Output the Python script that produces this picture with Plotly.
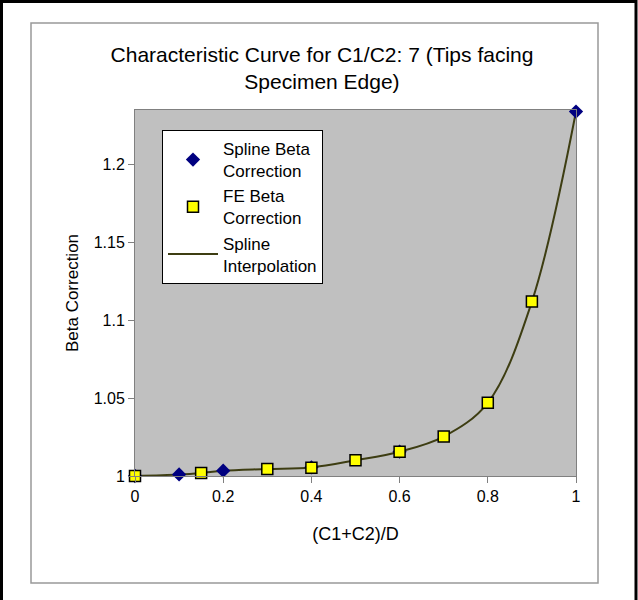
import plotly.graph_objects as go

# values
spline_x = [0, 0.1, 0.2, 0.4, 0.6, 1.0]
spline_beta = [1.0, 1.001, 1.0034, 1.0056, 1.0156, 1.234]

fe_x = [0, 0.15, 0.3, 0.4, 0.5, 0.6, 0.7, 0.8, 0.9]
fe_beta = [1.0, 1.002, 1.0045, 1.0053, 1.0101, 1.0156, 1.0253, 1.047, 1.112]

curve_x = [0, 0.1, 0.15, 0.2, 0.3, 0.4, 0.5, 0.6, 0.7, 0.8, 0.9, 1.0]
curve_beta = [1.0, 1.001, 1.002, 1.0034, 1.0045, 1.0055, 1.0101, 1.0156, 1.0253, 1.047, 1.112, 1.234]

W, H = 638, 600
ML, MR, MT, MB = 135, 62, 110, 124
pw, ph = W - ML - MR, H - MT - MB


def px(x):
    return (x - ML) / pw


def py(y):
    return (H - MB - y) / ph


FONT = "Liberation Sans, Arial, sans-serif"

fig = go.Figure()

fig.add_trace(go.Scatter(
    x=curve_x, y=curve_beta, mode="lines", name="Spline<br>Interpolation",
    line=dict(color="#3d3d12", width=2, shape="spline", smoothing=1.0),
    legendrank=3, cliponaxis=False,
))
fig.add_trace(go.Scatter(
    x=spline_x, y=spline_beta, mode="markers", name="Spline Beta<br>Correction",
    marker=dict(symbol="diamond", size=11, color="#000080"),
    legendrank=1, cliponaxis=False,
))
fig.add_trace(go.Scatter(
    x=fe_x, y=fe_beta, mode="markers", name="FE Beta<br>Correction",
    marker=dict(symbol="square", size=11, color="#ffff00",
                line=dict(color="black", width=1.5)),
    legendrank=2, cliponaxis=False,
))

fig.update_layout(
    width=W, height=H,
    margin=dict(l=ML, r=MR, t=MT, b=MB),
    paper_bgcolor="white",
    plot_bgcolor="#c0c0c0",
    font=dict(family=FONT, size=16, color="black"),
    title=dict(
        text="Characteristic Curve for C1/C2: 7 (Tips facing<br>Specimen Edge)",
        x=322 / W, xanchor="center", y=1 - 62 / H, yanchor="top",
        font=dict(size=21),
    ),
    showlegend=True,
    legend=dict(
        x=px(162), y=py(130), xanchor="left", yanchor="top",
        bgcolor="white", bordercolor="black", borderwidth=1,
        font=dict(size=17), tracegroupgap=3, itemwidth=50,
    ),
    xaxis=dict(
        range=[0, 1], tickvals=[0, 0.2, 0.4, 0.6, 0.8, 1],
        ticktext=["0", "0.2", "0.4", "0.6", "0.8", "1"],
        ticks="outside", ticklen=6, tickcolor="#808080",
        showgrid=False, zeroline=False,
        showline=True, linecolor="#808080", linewidth=1, mirror=True,
        tickfont=dict(size=16),
        title=dict(text="(C1+C2)/D", font=dict(size=18), standoff=23),
    ),
    yaxis=dict(
        range=[1, 1.235], tickvals=[1, 1.05, 1.1, 1.15, 1.2],
        ticktext=["1", "1.05", "1.1", "1.15", "1.2"],
        ticks="outside", ticklen=6, tickcolor="#808080",
        showgrid=False, zeroline=False,
        showline=True, linecolor="#808080", linewidth=1, mirror=True,
        tickfont=dict(size=16),
        title=dict(text="Beta Correction", font=dict(size=17), standoff=10),
    ),
    shapes=[
        dict(type="rect", xref="paper", yref="paper",
             x0=px(1.5), x1=px(636), y0=py(1.5), y1=py(640),
             line=dict(color="black", width=3), layer="below"),
        dict(type="rect", xref="paper", yref="paper",
             x0=px(31), x1=px(598), y0=py(23), y1=py(583),
             line=dict(color="#999999", width=1.5), layer="below"),
    ],
)

fig.write_html("out.html", config={"displayModeBar": False},
               post_script="document.body.style.margin='0';")
